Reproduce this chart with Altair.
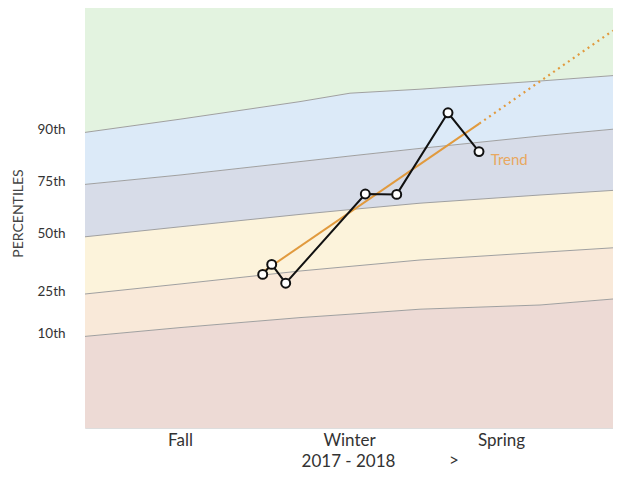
import altair as alt
import pandas as pd

# ---- data ----
band_x = [0, 47.5, 107.5, 132.5, 167.5, 227.5, 264]
p10 = [173.9, 176.1, 178.6, 179.45, 180.7, 181.75, 183.25]
p25 = [184.5, 187.0, 190.25, 191.4, 193.0, 194.9, 196.05]
p50 = [198.8, 201.3, 204.4, 205.6, 207.2, 209.25, 210.4]
p75 = [211.9, 214.25, 217.6, 219.0, 220.9, 224.0, 225.7]
p90 = [224.9, 228.2, 232.6, 234.7, 235.7, 237.75, 239.1]
y_min, y_max = 151, 256

score_x = [88.85, 93.35, 100.35, 140.15, 155.85, 181.5, 197.0]
score_y = [189.4, 191.9, 187.2, 209.5, 209.4, 229.8, 220.1]

trend_solid_x = [89.15, 197.15]
trend_solid_y = [190.1, 227.1]
trend_dot_x = [197.15, 264]
trend_dot_y = [227.1, 250.35]
trend_label = ("Trend", 202.85, 218.0)

season_pos = [47.5, 132, 208]
season_names = ["Fall", "Winter", "Spring"]
pct_names = ["10th", "25th", "50th", "75th", "90th"]
pct_left = [p10[0], p25[0], p50[0], p75[0], p90[0]]

band_names = ["b0", "b10", "b25", "b50", "b75", "b90"]
band_colors = ["#eddad5", "#f9e9d9", "#fcf3db", "#d7dce8", "#dceaf8", "#e3f3e0"]

# ---- tables ----
levels = [[y_min] * len(band_x), p10, p25, p50, p75, p90, [y_max] * len(band_x)]
band_rows = []
for i, name in enumerate(band_names):
    for j, xv in enumerate(band_x):
        band_rows.append({"band": name, "x": xv, "y": levels[i][j], "y2": levels[i + 1][j]})
bands_df = pd.DataFrame(band_rows)

line_rows = []
for name, arr in zip(pct_names, [p10, p25, p50, p75, p90]):
    for xv, yv in zip(band_x, arr):
        line_rows.append({"level": name, "x": xv, "y": yv})
lines_df = pd.DataFrame(line_rows)

score_df = pd.DataFrame({"x": score_x, "y": score_y, "i": list(range(len(score_x)))})
solid_df = pd.DataFrame({"x": trend_solid_x, "y": trend_solid_y})
dot_df = pd.DataFrame({"x": trend_dot_x, "y": trend_dot_y})
label_df = pd.DataFrame({"t": [trend_label[0]], "x": [trend_label[1]], "y": [trend_label[2]]})

# ---- label expressions ----
def thresh_expr(vals, names):
    expr = f"'{names[-1]}'"
    for k in range(len(vals) - 2, -1, -1):
        mid = (vals[k] + vals[k + 1]) / 2
        expr = f"datum.value < {mid} ? '{names[k]}' : ({expr})"
    return expr

FONT = "Lato"
xscale = alt.Scale(domain=[0, 264], nice=False, zero=False)
yscale = alt.Scale(domain=[y_min, y_max], nice=False, zero=False)

xaxis = alt.Axis(
    values=season_pos, labelExpr=thresh_expr(season_pos, season_names),
    title="2017 - 2018", titleX=263, titleY=38, titleAlign="center",
    titleBaseline="alphabetic", titleFontSize=17, titleFontWeight="normal",
    titleFont=FONT, titleColor="#333333",
    labelFont=FONT, labelFontSize=17, labelColor="#333333",
    labelBaseline="alphabetic", labelPadding=17, ticks=False, domain=False,
    grid=False, labelFlush=False,
)
yaxis = alt.Axis(
    values=pct_left, labelExpr=thresh_expr(pct_left, pct_names),
    title="PERCENTILES", titleX=-67, titleY=205, titleAlign="center",
    titleBaseline="middle", titleAngle=270, titleFontSize=14,
    titleFontWeight="normal", titleFont=FONT, titleColor="#444444",
    labelFont=FONT, labelFontSize=13.5, labelColor="#333333",
    labelAlign="left", labelBaseline="alphabetic", labelOffset=1,
    labelPadding=48, ticks=False, domain=False, grid=False,
)

X = alt.X("x:Q", scale=xscale, axis=xaxis)
Y = alt.Y("y:Q", scale=yscale, axis=yaxis)

bands = alt.Chart(bands_df).mark_area(opacity=1).encode(
    x=X, y=Y, y2="y2:Q",
    color=alt.Color("band:N", scale=alt.Scale(domain=band_names, range=band_colors), legend=None),
)
blines = alt.Chart(lines_df).mark_line(color="#a0a0a0", strokeWidth=1).encode(
    x=X, y=Y, detail="level:N"
)
trend_solid = alt.Chart(solid_df).mark_line(color="#e19a3e", strokeWidth=2).encode(x=X, y=Y)
trend_dot = alt.Chart(dot_df).mark_line(
    color="#e19a3e", strokeWidth=2.2, strokeDash=[2, 4]
).encode(x=X, y=Y)
score_line = alt.Chart(score_df).mark_line(color="#111111", strokeWidth=2).encode(
    x=X, y=Y, order="i:Q"
)
score_pts = alt.Chart(score_df).mark_point(
    shape="circle", filled=True, fill="white", stroke="#111111",
    strokeWidth=2, size=80, opacity=1,
).encode(x=X, y=Y)
tlabel = alt.Chart(label_df).mark_text(
    align="left", baseline="middle", font=FONT, fontSize=15, color="#e8a860"
).encode(x=X, y=Y, text="t:N")
chevron = alt.Chart(label_df).mark_text(
    text=">", align="center", baseline="alphabetic", font=FONT, fontSize=17, color="#333333"
).encode(x=alt.value(369), y=alt.value(458))

chart = alt.layer(
    bands, blines, trend_solid, trend_dot, score_line, score_pts, tlabel, chevron
).properties(
    width=528, height=420,
    autosize=alt.AutoSizeParams(type="none"),
    padding={"left": 77, "top": 0, "right": 0, "bottom": 42},
    background="white",
).configure_view(stroke="#dddddd", strokeWidth=1)

chart.save("out.html", embed_options={"renderer": "svg", "actions": False})
